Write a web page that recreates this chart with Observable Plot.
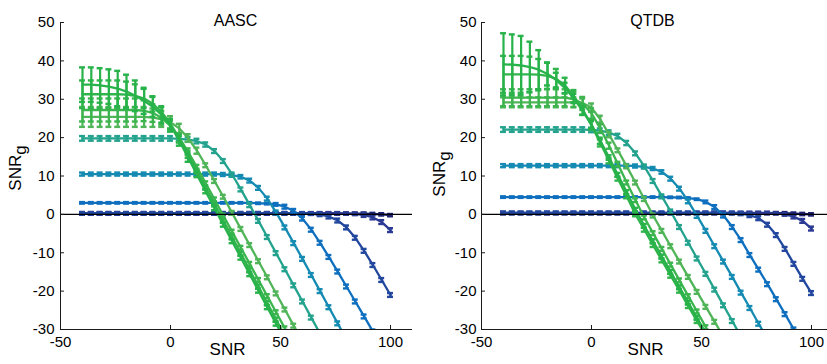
<!DOCTYPE html>
<html><head><meta charset="utf-8">
<script src="https://cdn.jsdelivr.net/npm/d3@7"></script>
<script src="https://cdn.jsdelivr.net/npm/@observablehq/plot@0.6"></script>
<style>
html,body{margin:0;padding:0;background:#fff;overflow:hidden;}
#wrap{position:relative;width:827px;height:364px;overflow:hidden;}
.panel{position:absolute;top:0;width:430px;}
.panel svg{max-width:none !important;}
</style></head>
<body><div id="wrap"><div id="p1" class="panel" style="left:0px"></div><div id="p2" class="panel" style="left:415px"></div></div>
<script>
const snr = [-40,-36,-32,-28,-24,-20,-16,-12,-8,-4,0,4,8,12,16,20,24,28,32,36,40,44,48,52,56,60,64,68,72,76,80,84,88,92,96,100];
const xTicks = [-50, 0, 50, 100];
const yTicks = [-30, -20, -10, 0, 10, 20, 30, 40, 50];
const titles = ["AASC", "QTDB"];
const seriesColors = ["#1b2070", "#2b3a94", "#22479e", "#0f6fbf", "#158ab2", "#23a28d", "#50b558", "#3cb54e", "#30b44b", "#27b24a"];

// AASC means
const aascS0 = [0.2,0.2,0.2,0.2,0.2,0.2,0.2,0.2,0.2,0.2, 0.2,0.2,0.2,0.2,0.2,0.2,0.2,0.2,0.2,0.2, 0.2,0.2,0.2,0.2,0.2,0.2,0.2,0.2,0.2,0.2, 0.2,0.2,0.2,0.1,0.0,-0.2];
const aascS1 = [0.3,0.3,0.3,0.3,0.3,0.3,0.3,0.3,0.3,0.3, 0.3,0.3,0.3,0.3,0.3,0.3,0.3,0.3,0.3,0.3, 0.3,0.3,0.3,0.3,0.3,0.3,0.3,0.3,0.3,0.3, 0.2,0.1,-0.15,-0.8,-2.0,-4.1];
const aascS2 = [0.3,0.3,0.3,0.3,0.3,0.3,0.3,0.3,0.3,0.3, 0.3,0.3,0.3,0.3,0.3,0.3,0.3,0.3,0.3,0.3, 0.3,0.3,0.3,0.3,0.3,0.25,0.15,-0.05,-0.55,-1.6, -3.4,-6.1,-9.5,-13.2,-17.1,-21.0];
const aascS3 = [3.0,3.0,3.0,3.0,3.0,3.0,3.0,3.0,3.0,3.0, 3.0,3.0,3.0,3.0,3.0,3.0,3.0,3.0,3.0,3.0, 2.9,2.8,2.6,2.0,0.9,-1.1,-4.0,-7.4,-11.1,-14.9, -18.8,-22.7,-26.6,-30.5];
const aascS4 = [10.5,10.5,10.5,10.5,10.5,10.5,10.5,10.5,10.5,10.5, 10.5,10.5,10.5,10.5,10.5,10.5,10.4,10.2,9.8,8.8, 6.9,4.1,0.5,-3.4,-7.5,-11.6,-15.8,-20.0,-24.2,-28.4, -32.6];
const aascS5 = [19.8,19.8,19.8,19.8,19.8,19.8,19.8,19.8,19.8,19.8, 19.8,19.7,19.5,19.1,18.2,16.5,13.9,10.4,6.5,2.4, -1.7,-5.9,-10.1,-14.3,-18.5,-22.7,-26.9,-31.1];
const aascS6 = [25.4,25.4,25.4,25.4,25.4,25.4,25.4,25.4,25.2,24.8, 24.0,22.4,19.9,16.6,12.8,8.7,4.6,0.4,-3.8,-8.0, -12.2,-16.4,-20.6,-24.8,-29.0,-33.2];
const aascS7 = [27.2,27.2,27.2,27.2,27.2,27.2,27.2,27.0,26.4,25.2, 23.0,20.0,16.3,12.3,8.1,3.9,-0.3,-4.5,-8.7,-12.9, -17.1,-21.3,-25.5,-29.7,-33.9];
const aascS8 = [31.3,31.3,31.3,31.3,31.3,31.2,30.9,30.2,28.8,26.6, 23.6,19.8,15.6,11.3,7.0,2.7,-1.6,-5.9,-10.2,-14.5, -18.8,-23.1,-27.4,-31.7];
const aascS9 = [33.8,33.8,33.6,33.3,32.8,32.0,30.9,29.6,28.0,25.9, 23.2,19.2,14.8,10.4,6.0,1.6,-2.7,-7.0,-11.3,-15.6, -19.9,-24.2,-28.5,-32.8];
// AASC error half-widths
const aascE0 = [0.3,0.3,0.3,0.3,0.3,0.3,0.3,0.3,0.3,0.3, 0.3,0.3,0.3,0.3,0.3,0.3,0.3,0.3,0.3,0.3, 0.3,0.3,0.3,0.3,0.3,0.3,0.3,0.3,0.3,0.3, 0.3,0.3,0.3,0.3,0.3,0.3];
const aascE1 = [0.3,0.3,0.3,0.3,0.3,0.3,0.3,0.3,0.3,0.3, 0.3,0.3,0.3,0.3,0.3,0.3,0.3,0.3,0.3,0.3, 0.3,0.3,0.3,0.3,0.3,0.3,0.3,0.3,0.3,0.3, 0.3,0.3,0.5,0.5,0.5,0.5];
const aascE2 = [0.3,0.3,0.3,0.3,0.3,0.3,0.3,0.3,0.3,0.3, 0.3,0.3,0.3,0.3,0.3,0.3,0.3,0.3,0.3,0.3, 0.3,0.3,0.3,0.3,0.3,0.3,0.3,0.4,0.5,0.5, 0.5,0.5,0.5,0.5,0.5,0.5];
const aascE3 = [0.2,0.2,0.2,0.2,0.2,0.2,0.2,0.2,0.2,0.2, 0.2,0.2,0.2,0.2,0.2,0.2,0.2,0.2,0.2,0.2, 0.2,0.2,0.35,0.5,0.5,0.5,0.5,0.5,0.5,0.5, 0.5,0.5,0.5,0.5];
const aascE4 = [0.4,0.4,0.4,0.4,0.4,0.4,0.4,0.4,0.4,0.4, 0.4,0.4,0.4,0.4,0.4,0.4,0.4,0.4,0.45,0.5, 0.5,0.5,0.5,0.5,0.5,0.5,0.5,0.5,0.5,0.5, 0.5];
const aascE5 = [0.6,0.6,0.6,0.6,0.6,0.6,0.6,0.6,0.6,0.6, 0.6,0.6,0.6,0.6,0.55,0.5,0.5,0.5,0.5,0.5, 0.5,0.5,0.5,0.5,0.5,0.5,0.5,0.5];
const aascE6 = [2.6,2.6,2.6,2.6,2.6,2.6,2.6,2.6,2.4,2.0, 1.6,1.2,1.0,0.8,0.5,0.5,0.5,0.5,0.5,0.5, 0.5,0.5,0.5,0.5,0.5,0.5];
const aascE7 = [3.0,3.0,3.0,3.0,3.0,3.0,3.0,2.7,2.3,1.8, 1.4,1.1,0.9,0.6,0.5,0.5,0.5,0.5,0.5,0.5, 0.5,0.5,0.5,0.5,0.5];
const aascE8 = [3.6,3.6,3.6,3.6,3.6,3.4,3.0,2.5,2.0,1.6, 1.3,1.1,0.9,0.6,0.5,0.5,0.5,0.5,0.5,0.5, 0.5,0.5,0.5,0.5];
const aascE9 = [4.5,4.5,4.5,4.5,4.6,4.4,4.0,3.4,2.6,2.0, 1.6,1.3,1.1,0.7,0.5,0.5,0.5,0.5,0.5,0.5, 0.5,0.5,0.5,0.5];

// QTDB means
const qtdbS0 = [0.3,0.3,0.3,0.3,0.3,0.3,0.3,0.3,0.3,0.3, 0.3,0.3,0.3,0.3,0.3,0.3,0.3,0.3,0.3,0.3, 0.3,0.3,0.3,0.3,0.3,0.3,0.3,0.3,0.3,0.3, 0.3,0.3,0.3,0.2,0.1,0.0];
const qtdbS1 = [0.4,0.4,0.4,0.4,0.4,0.4,0.4,0.4,0.4,0.4, 0.4,0.4,0.4,0.4,0.4,0.4,0.4,0.4,0.4,0.4, 0.4,0.4,0.4,0.4,0.4,0.4,0.4,0.4,0.4,0.4, 0.4,0.3,0.0,-0.6,-1.7,-3.7];
const qtdbS2 = [0.4,0.4,0.4,0.4,0.4,0.4,0.4,0.4,0.4,0.4, 0.4,0.4,0.4,0.4,0.4,0.4,0.4,0.4,0.4,0.4, 0.4,0.4,0.4,0.4,0.4,0.4,0.35,0.2,-0.2,-1.0, -2.7,-5.4,-9.0,-12.9,-16.8,-20.5];
const qtdbS3 = [4.5,4.5,4.5,4.5,4.5,4.5,4.5,4.5,4.5,4.5, 4.5,4.5,4.5,4.5,4.5,4.5,4.5,4.5,4.5,4.45, 4.4,4.25,3.95,3.25,1.9,-0.3,-3.3,-6.7,-10.6,-14.4, -18.2,-22.1,-26.0,-30.0,-33.9];
const qtdbS4 = [12.7,12.7,12.7,12.7,12.7,12.7,12.7,12.7,12.7,12.7, 12.7,12.7,12.7,12.7,12.7,12.6,12.4,11.95,11.05,9.3, 6.7,3.4,-0.4,-4.3,-8.3,-12.3,-16.3,-20.4,-24.4,-28.5, -32.5];
const qtdbS5 = [22.1,22.1,22.1,22.1,22.1,22.1,22.1,22.1,22.1,22.1, 22.0,21.8,21.3,20.4,18.6,15.9,12.5,8.7,4.7,0.75, -3.3,-7.4,-11.5,-15.5,-19.6,-23.7,-27.8,-31.9];
const qtdbS6 = [29.2,29.2,29.2,29.2,29.2,29.2,29.2,29.2,29.2,29.0, 27.8,24.8,20.8,16.7,12.5,8.3,4.0,-0.3,-4.3,-8.3, -12.3,-16.3,-20.2,-24.1,-28.0,-31.9];
const qtdbS7 = [30.4,30.4,30.4,30.4,30.4,30.4,30.4,30.4,30.0,28.9, 26.3,22.4,17.9,13.1,8.3,3.7,-0.8,-4.9,-9.0,-13.1, -17.2,-21.3,-25.3,-29.4,-33.5];
const qtdbS8 = [36.5,36.5,36.5,36.5,36.4,36.1,35.3,33.6,30.8,27.3, 23.2,18.6,14.0,9.3,4.7,0.0,-4.0,-8.0,-12.0,-16.0, -19.9,-23.9,-27.8,-31.7];
const qtdbS9 = [39.1,39.0,38.8,38.4,37.7,36.6,35.0,32.9,30.2,27.0, 23.4,19.2,14.8,10.3,5.8,1.2,-3.0,-7.0,-11.0,-15.0, -19.0,-23.0,-27.0,-31.0];
// QTDB error half-widths
const qtdbE0 = [0.3,0.3,0.3,0.3,0.3,0.3,0.3,0.3,0.3,0.3, 0.3,0.3,0.3,0.3,0.3,0.3,0.3,0.3,0.3,0.3, 0.3,0.3,0.3,0.3,0.3,0.3,0.3,0.3,0.3,0.3, 0.3,0.3,0.3,0.3,0.3,0.3];
const qtdbE1 = [0.3,0.3,0.3,0.3,0.3,0.3,0.3,0.3,0.3,0.3, 0.3,0.3,0.3,0.3,0.3,0.3,0.3,0.3,0.3,0.3, 0.3,0.3,0.3,0.3,0.3,0.3,0.3,0.3,0.3,0.3, 0.3,0.3,0.35,0.45,0.5,0.5];
const qtdbE2 = [0.3,0.3,0.3,0.3,0.3,0.3,0.3,0.3,0.3,0.3, 0.3,0.3,0.3,0.3,0.3,0.3,0.3,0.3,0.3,0.3, 0.3,0.3,0.3,0.3,0.3,0.3,0.3,0.4,0.5,0.5, 0.5,0.5,0.5,0.5,0.5,0.5];
const qtdbE3 = [0.2,0.2,0.2,0.2,0.2,0.2,0.2,0.2,0.2,0.2, 0.2,0.2,0.2,0.2,0.2,0.2,0.2,0.2,0.2,0.2, 0.2,0.2,0.2,0.35,0.5,0.5,0.5,0.5,0.5,0.5, 0.5,0.5,0.5,0.5,0.5];
const qtdbE4 = [0.4,0.4,0.4,0.4,0.4,0.4,0.4,0.4,0.4,0.4, 0.4,0.4,0.4,0.4,0.4,0.4,0.4,0.4,0.45,0.5, 0.5,0.5,0.5,0.5,0.5,0.5,0.5,0.5,0.5,0.5, 0.5];
const qtdbE5 = [0.6,0.6,0.6,0.6,0.6,0.6,0.6,0.6,0.6,0.6, 0.6,0.6,0.6,0.6,0.55,0.5,0.5,0.5,0.5,0.5, 0.5,0.5,0.5,0.5,0.5,0.5,0.5,0.5];
const qtdbE6 = [1.3,1.3,1.3,1.3,1.3,1.3,1.3,1.3,1.3,1.2, 1.1,0.9,0.7,0.5,0.5,0.5,0.5,0.5,0.5,0.5, 0.5,0.5,0.5,0.5,0.5,0.5];
const qtdbE7 = [2.2,2.2,2.2,2.2,2.2,2.2,2.2,2.2,2.0,1.7, 1.4,1.1,0.8,0.6,0.5,0.5,0.5,0.5,0.5,0.5, 0.5,0.5,0.5,0.5,0.5];
const qtdbE8 = [4.8,4.8,4.8,4.6,4.1,3.4,2.6,2.0,1.6,1.3, 1.1,0.9,0.7,0.5,0.5,0.5,0.5,0.5,0.5,0.5, 0.5,0.5,0.5,0.5];
const qtdbE9 = [8.1,7.9,7.7,6.6,5.1,3.0,1.9,1.4,1.2,1.1, 1.0,0.8,0.6,0.5,0.5,0.5,0.5,0.5,0.5,0.5, 0.5,0.5,0.5,0.5];

const aascMeans = [aascS0,aascS1,aascS2,aascS3,aascS4,aascS5,aascS6,aascS7,aascS8,aascS9];
const aascErrs = [aascE0,aascE1,aascE2,aascE3,aascE4,aascE5,aascE6,aascE7,aascE8,aascE9];
const qtdbMeans = [qtdbS0,qtdbS1,qtdbS2,qtdbS3,qtdbS4,qtdbS5,qtdbS6,qtdbS7,qtdbS8,qtdbS9];
const qtdbErrs = [qtdbE0,qtdbE1,qtdbE2,qtdbE3,qtdbE4,qtdbE5,qtdbE6,qtdbE7,qtdbE8,qtdbE9];

const FONT = "'Liberation Sans', Arial, Helvetica, sans-serif";
const CAP = 1.35;

function panel(el, title, means, errs, cfg) {
  const marks = [];
  for (let s = 0; s < means.length; s++) {
    const col = seriesColors[s];
    const rows = snr.map((x, i) => ({x, y: means[s][i], e: errs[s][i]})).filter(d => d.y !== undefined && d.y !== null);
    marks.push(Plot.line(rows, {x: "x", y: "y", stroke: col, strokeWidth: 2.3, clip: true}));
    marks.push(Plot.ruleX(rows, {x: "x", y1: d => d.y - d.e, y2: d => d.y + d.e, stroke: col, strokeWidth: 2.2, clip: true}));
    marks.push(Plot.ruleY(rows, {y: d => d.y + d.e, x1: d => d.x - CAP, x2: d => d.x + CAP, stroke: col, strokeWidth: 2.4, clip: true}));
    marks.push(Plot.ruleY(rows, {y: d => d.y - d.e, x1: d => d.x - CAP, x2: d => d.x + CAP, stroke: col, strokeWidth: 2.4, clip: true}));
  }
  // zero reference line
  marks.push(Plot.ruleY([0], {x1: -50, x2: 110, stroke: "#000", strokeWidth: 1.1}));
  // axes
  marks.push(Plot.ruleX([-50], {y1: -30, y2: 50, stroke: "#1a1a1a", strokeWidth: 1}));
  marks.push(Plot.ruleY([-30], {x1: -50, x2: 110, stroke: "#1a1a1a", strokeWidth: 1}));
  marks.push(Plot.ruleX(xTicks, {x: d => d, y1: -30, y2: -28.95, stroke: "#1a1a1a", strokeWidth: 1}));
  marks.push(Plot.ruleY(yTicks, {y: d => d, x1: -50, x2: -48.2, stroke: "#1a1a1a", strokeWidth: 1}));
  marks.push(Plot.text(xTicks, {x: d => d, y: () => -30, dy: 13, text: d => String(d), fontSize: 15, fill: "#000"}));
  marks.push(Plot.text(yTicks, {x: () => -50, y: d => d, dx: -cfg.yPad, textAnchor: "end", text: d => String(d), fontSize: 15, fill: "#000"}));
  marks.push(Plot.text([title], {frameAnchor: "top", dy: -8, dx: cfg.titleDx, text: d => d, fontSize: 16, fill: "#000"}));
  marks.push(Plot.text(["SNR"], {frameAnchor: "bottom", dy: 25, dx: cfg.xlabDx, text: d => d, fontSize: 17, fill: "#000"}));

  const svg = Plot.plot({
    width: cfg.width, height: 364,
    marginLeft: cfg.ml, marginRight: cfg.mr, marginTop: 22, marginBottom: 35,
    x: {domain: [-50, 110], axis: null},
    y: {domain: [-30, 50], axis: null},
    style: {fontFamily: FONT, background: "transparent", overflow: "visible", color: "#000", maxWidth: "none"},
    marks
  });
  const t = d3.select(svg).append("text")
    .attr("transform", `translate(${cfg.ylx},${cfg.yly}) rotate(-90)`)
    .attr("text-anchor", "middle")
    .attr("font-family", FONT)
    .attr("font-size", 17)
    .attr("fill", "#000");
  t.append("tspan").text("SNR");
  t.append("tspan").attr("dy", "0.3em").text("g");
  document.getElementById(el).appendChild(svg);
}

panel("p1", titles[0], aascMeans, aascErrs, {width: 415, ml: 60, mr: 3, yPad: 6, titleDx: -1, xlabDx: -9, ylx: 21, yly: 168});
panel("p2", titles[1], qtdbMeans, qtdbErrs, {width: 421, ml: 66, mr: 3, yPad: 5, titleDx: -5, xlabDx: -12, ylx: 30, yly: 174});
</script>
</body></html>
